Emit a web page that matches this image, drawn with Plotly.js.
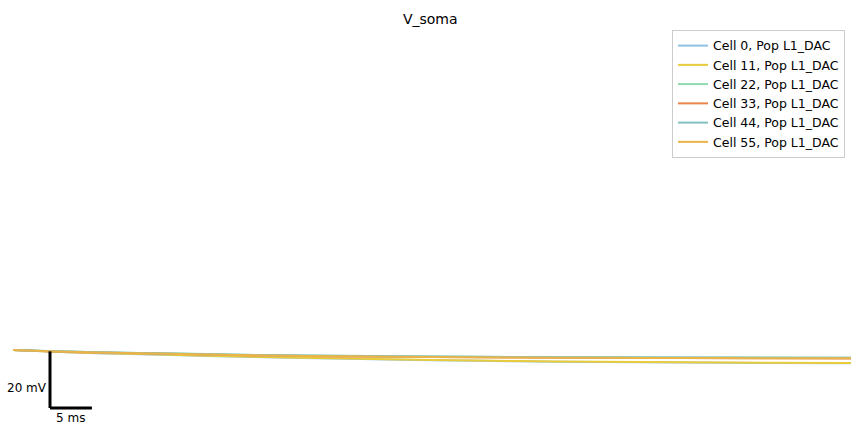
<!DOCTYPE html>
<html>
<head>
<meta charset="utf-8">
<script src="https://cdn.plot.ly/plotly-3.0.1.min.js"></script>
<style>html,body{margin:0;padding:0;background:#fff;}</style>
</head>
<body>
<div id="chart" style="width:864px;height:432px;"></div>
<script>
// time (ms)
const time = [0, 5, 10, 20, 30, 40, 50, 60, 70, 80, 90, 100];
// membrane potential (mV) per cell
const cell0  = [-65.00, -65.65, -66.12, -66.85, -67.55, -68.08, -68.62, -68.98, -69.26, -69.44, -69.58, -69.68];
const cell11 = [-65.00, -65.60, -66.06, -66.77, -67.47, -68.00, -68.53, -68.89, -69.17, -69.35, -69.49, -69.59];
const cell22 = [-65.00, -65.44, -65.78, -66.28, -66.79, -67.07, -67.30, -67.47, -67.57, -67.63, -67.69, -67.72];
const cell33 = [-65.00, -65.55, -65.92, -66.45, -66.98, -67.27, -67.51, -67.69, -67.80, -67.87, -67.94, -67.97];
const cell44 = [-65.00, -65.45, -65.80, -66.30, -66.82, -67.10, -67.33, -67.50, -67.60, -67.66, -67.72, -67.75];
const cell55 = [-65.00, -65.53, -65.88, -66.41, -66.94, -67.23, -67.47, -67.65, -67.76, -67.83, -67.90, -67.93];
const names = ['Cell 0, Pop L1_DAC', 'Cell 11, Pop L1_DAC', 'Cell 22, Pop L1_DAC',
               'Cell 33, Pop L1_DAC', 'Cell 44, Pop L1_DAC', 'Cell 55, Pop L1_DAC'];
const series = [cell0, cell11, cell22, cell33, cell44, cell55];
const colors = ['#8fc0df', '#e9cc3c', '#8fdbb0', '#ea844a', '#82c0c0', '#ebb448'];

const traces = series.map((v, i) => ({
  x: time, y: v, type: 'scatter', mode: 'lines', name: names[i],
  line: {color: colors[i], width: 2, shape: 'spline'}
}));

// scale bar (layout only)
const sbX = 4.415, sbY = -85.5, sbT = 5, sbV = 20;

const layout = {
  width: 864, height: 432,
  margin: {l: 0, r: 0, t: 0, b: 0},
  paper_bgcolor: '#ffffff', plot_bgcolor: '#ffffff',
  font: {family: 'DejaVu Sans', size: 12, color: '#000'},
  title: {text: 'V_soma', x: 0.498, xanchor: 'center', y: 0.956, yanchor: 'middle',
          font: {family: 'DejaVu Sans', size: 14, color: '#000'}},
  xaxis: {visible: false, range: [-1.551, 101.55], fixedrange: true},
  yaxis: {visible: false, range: [-93.98, 58.67], fixedrange: true},
  showlegend: true,
  legend: {x: 0.978, xanchor: 'right', y: 0.9306, yanchor: 'top',
           bgcolor: '#ffffff', bordercolor: '#cccccc', borderwidth: 1,
           font: {family: 'DejaVu Sans', size: 12.5, color: '#000'}},
  shapes: [
    {type: 'line', xref: 'x', yref: 'y', x0: sbX, x1: sbX, y0: sbY, y1: sbY + sbV,
     line: {color: '#000', width: 3}},
    {type: 'line', xref: 'x', yref: 'y', x0: sbX, x1: sbX + sbT, y0: sbY, y1: sbY,
     line: {color: '#000', width: 3}}
  ],
  annotations: [
    {xref: 'x', yref: 'y', x: sbX - 0.07, y: sbY + sbV / 2 - 2.95, text: '20 mV', showarrow: false,
     xanchor: 'right', yanchor: 'middle', font: {family: 'DejaVu Sans', size: 12, color: '#000'}},
    {xref: 'x', yref: 'y', x: sbX + 2.4, y: sbY - 3.55, text: '5 ms', showarrow: false,
     xanchor: 'center', yanchor: 'middle', font: {family: 'DejaVu Sans', size: 12, color: '#000'}}
  ]
};

Plotly.newPlot('chart', traces, layout, {displayModeBar: false, staticPlot: true});
</script>
</body>
</html>
